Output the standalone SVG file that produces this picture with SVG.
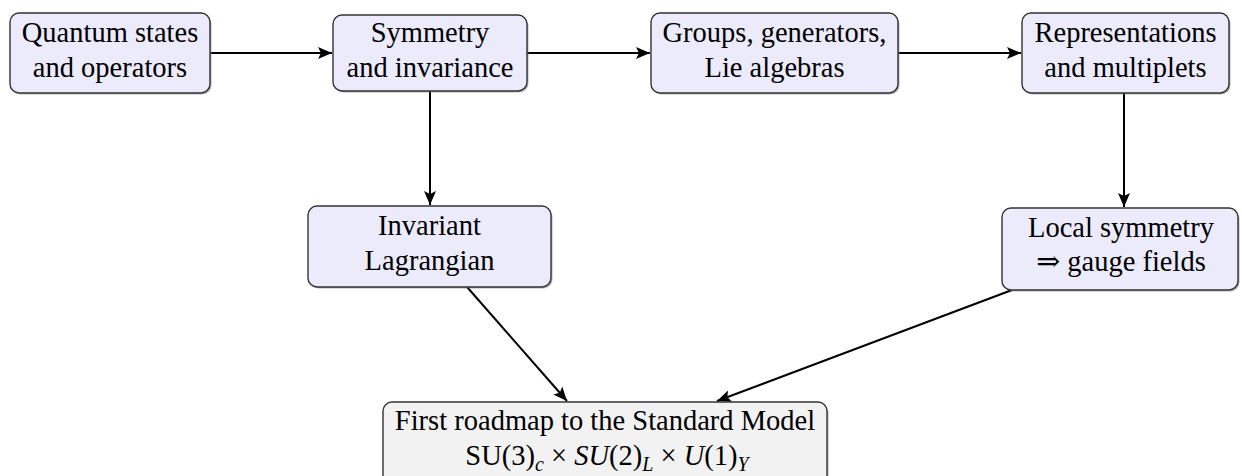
<svg xmlns="http://www.w3.org/2000/svg" width="1242" height="476" viewBox="0 0 1242 476">
<defs>
<marker id="arr" markerUnits="userSpaceOnUse" markerWidth="18" markerHeight="14" refX="14" refY="6" orient="auto">
<path d="M0,0 L14,6 L0,12 L3,6 Z" fill="#000"/>
</marker>
</defs>
<style>
.box{fill:#EBEBFC;stroke:#333;stroke-width:1.4}
.box2{fill:#F2F2F2;stroke:#333;stroke-width:1.4}
.sh{fill:#777;opacity:0.55}
text{font-family:'Liberation Serif','DejaVu Serif',serif;font-size:28.5px;fill:#000;text-anchor:middle}
.it{font-style:italic}
.sub{font-size:20px}
.con{stroke:#000;stroke-width:2;fill:none;marker-end:url(#arr)}
</style>
<rect width="1242" height="476" fill="#fff"/>
<g id="connectors">
<line class="con" x1="210" y1="53" x2="332" y2="53"/>
<line class="con" x1="527" y1="53" x2="650" y2="53"/>
<line class="con" x1="898" y1="53" x2="1021" y2="53"/>
<line class="con" x1="430" y1="91" x2="430" y2="205"/>
<line class="con" x1="1124" y1="93" x2="1124" y2="207"/>
<line class="con" x1="467" y1="287" x2="567" y2="401"/>
<line class="con" x1="1012" y1="290" x2="717" y2="401"/>
</g>
<g id="n1">
<rect class="sh" x="11.5" y="14.5" width="200" height="80" rx="9"/>
<rect class="box" x="10" y="13" width="200" height="80" rx="9"/>
<text x="110" y="42">Quantum states</text>
<text x="110" y="77">and operators</text>
</g>
<g id="n2">
<rect class="sh" x="334.5" y="16.5" width="194" height="76" rx="9"/>
<rect class="box" x="333" y="15" width="194" height="76" rx="9"/>
<text x="430" y="42">Symmetry</text>
<text x="430" y="77">and invariance</text>
</g>
<g id="n3">
<rect class="sh" x="652.5" y="14.5" width="247" height="80" rx="9"/>
<rect class="box" x="651" y="13" width="247" height="80" rx="9"/>
<text x="774.5" y="42">Groups, generators,</text>
<text x="774.5" y="77">Lie algebras</text>
</g>
<g id="n4">
<rect class="sh" x="1023.5" y="14.5" width="207" height="80" rx="9"/>
<rect class="box" x="1022" y="13" width="207" height="80" rx="9"/>
<text x="1125.5" y="42">Representations</text>
<text x="1125.5" y="77">and multiplets</text>
</g>
<g id="n5">
<rect class="sh" x="309.5" y="207.5" width="243" height="81" rx="9"/>
<rect class="box" x="308" y="206" width="243" height="81" rx="9"/>
<text x="429.5" y="235">Invariant</text>
<text x="429.5" y="270">Lagrangian</text>
</g>
<g id="n6">
<rect class="sh" x="1003.5" y="209.5" width="236" height="82" rx="9"/>
<rect class="box" x="1002" y="208" width="236" height="82" rx="9"/>
<text x="1121" y="237">Local symmetry</text>
<text x="1121" y="271">⇒ gauge fields</text>
</g>
<g id="n7">
<rect class="sh" x="384.5" y="403.5" width="444" height="84" rx="9"/>
<rect class="box2" x="383" y="402" width="444" height="84" rx="9"/>
<text x="605" y="430">First roadmap to the Standard Model</text>
<text x="607" y="465">SU(3)<tspan class="it sub" dy="6">c</tspan><tspan dy="-6"> × </tspan><tspan class="it">SU</tspan>(2)<tspan class="it sub" dy="6">L</tspan><tspan dy="-6"> × </tspan><tspan class="it">U</tspan>(1)<tspan class="it sub" dy="6">Y</tspan></text>
</g>
</svg>
